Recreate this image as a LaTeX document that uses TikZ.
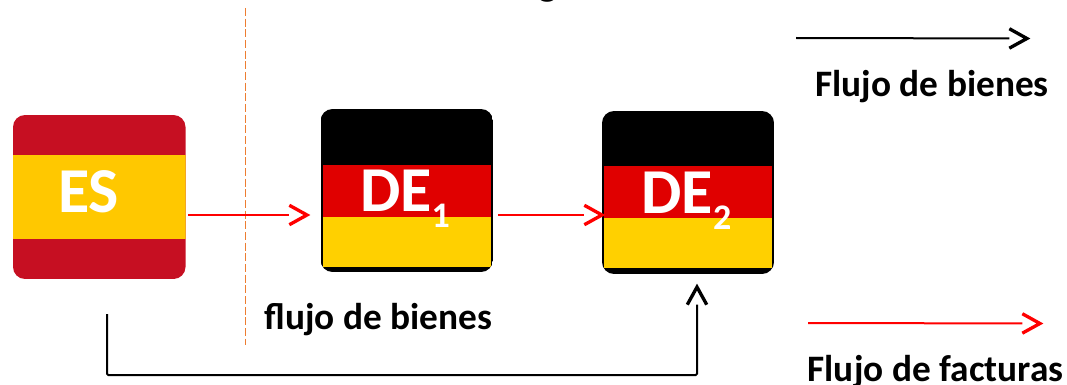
\documentclass[tikz,border=0pt]{standalone}
\usepackage{fontspec}
\setmainfont{Carlito}
\usetikzlibrary{arrows.meta}
\definecolor{esred}{HTML}{C60F22}
\definecolor{esyel}{HTML}{FFC800}
\definecolor{dered}{HTML}{E00000}
\definecolor{deyel}{HTML}{FFD000}
\definecolor{dashor}{HTML}{ED7D31}
\pgfdeclarearrow{
  name=OpenVee,
  setup code={\pgfarrowssettipend{0pt}\pgfarrowssetlineend{-15.5pt}\pgfarrowssavethe\pgfarrowlength},
  drawing code={
    \pgfsetdash{}{0pt}\pgfsetlinewidth{2.5pt}\pgfsetmiterjoin\pgfsetbuttcap
    \pgfpathmoveto{\pgfqpoint{-15.5pt}{7.3pt}}
    \pgfpathlineto{\pgfqpoint{-2.3pt}{0pt}}
    \pgfpathlineto{\pgfqpoint{-15.5pt}{-7.3pt}}
    \pgfusepathqstroke
  }
}
\newcommand{\subdigit}[1]{\raisebox{-12pt}{\fontsize{27}{27}\selectfont #1}}
\tikzset{
  x=0.75pt,y=-0.75pt,
  redflow/.style={-OpenVee,draw=red,line width=1.5pt},
  blackflow/.style={-OpenVee,draw=black,line width=1.5pt},
  flaglabel/.style={text=white,font=\bfseries\fontsize{48}{48}\selectfont,inner sep=0pt,anchor=base},
  caption/.style={text=black,font=\bfseries\fontsize{28}{28}\selectfont,inner sep=0pt,anchor=base},
  boundary/.style={draw=dashor,line width=0.75pt,dash pattern=on 6pt off 2pt},
  flagbox/.style={minimum width=129.75pt,minimum height=121.5pt,inner sep=0pt,rounded corners=9pt}
}
\begin{document}
\begin{tikzpicture}
\useasboundingbox (0,0) rectangle (1067,385);
% cut-off heading
\begin{scope}
\clip (0,0) rectangle (1067,385);
\node[caption,font=\bfseries\fontsize{30}{30}\selectfont] (heading) at (548,-4) {g};
\end{scope}
% boundary
\coordinate (bt) at (245,8);
\coordinate (bb) at (245,345);
\draw[boundary] (bt) -- (bb);
% Spain
\begin{scope}
\clip[rounded corners=9pt] (13,115) rectangle (185.5,279);
\fill[esred] (13,115) rectangle (185.5,279);
\fill[esyel] (13,155) rectangle (185.5,239);
\end{scope}
\node[flagbox] (es) at (99.25,197) {};
\node[flaglabel] (eslabel) at (88.5,212) {ES};
% DE1
\begin{scope}
\clip[rounded corners=9pt] (320.5,109) rectangle (493,272);
\fill[black] (320.5,109) rectangle (493,272);
\fill[dered] (322.5,165) rectangle (491,217);
\fill[deyel] (322.5,217) rectangle (491,267);
\end{scope}
\node[flagbox] (de1) at (406.75,190.5) {};
\node[flaglabel] (de1label) at (405,211) {DE\subdigit{1}};
% DE2
\begin{scope}
\clip[rounded corners=9pt] (602,111) rectangle (774,274);
\fill[black] (602,111) rectangle (774,274);
\fill[dered] (604,166) rectangle (772,218);
\fill[deyel] (604,218) rectangle (772,268);
\end{scope}
\node[flagbox] (de2) at (688,192.5) {};
\node[flaglabel] (de2label) at (686.5,213) {DE\subdigit{2}};
% connectors
\coordinate (a1s) at (188,215);
\coordinate (a1e) at (310,215);
\draw[redflow] (a1s) -- (a1e);
\coordinate (a2s) at (498,215);
\coordinate (a2e) at (605,215);
\draw[redflow] (a2s) -- (a2e);
\coordinate (bs) at (107,314);
\coordinate (bc) at (107,375);
\coordinate (bd) at (697,375);
\coordinate (be) at (697,284);
\draw[blackflow,rounded corners=1pt] (bs) -- (bc) -- (bd) -- (be);
% legend
\coordinate (l1s) at (796,38);
\coordinate (l1e) at (1030,38.5);
\draw[blackflow] (l1s) -- (l1e);
\coordinate (l2s) at (808,323);
\coordinate (l2e) at (1043,323.5);
\draw[redflow] (l2s) -- (l2e);
\node[caption] (t1) at (932,96) {Flujo de bienes};
\node[caption] (t2) at (935.5,381) {Flujo de facturas};
\node[caption] (t3) at (378.5,329) {flujo de bienes};
\end{tikzpicture}
\end{document}
